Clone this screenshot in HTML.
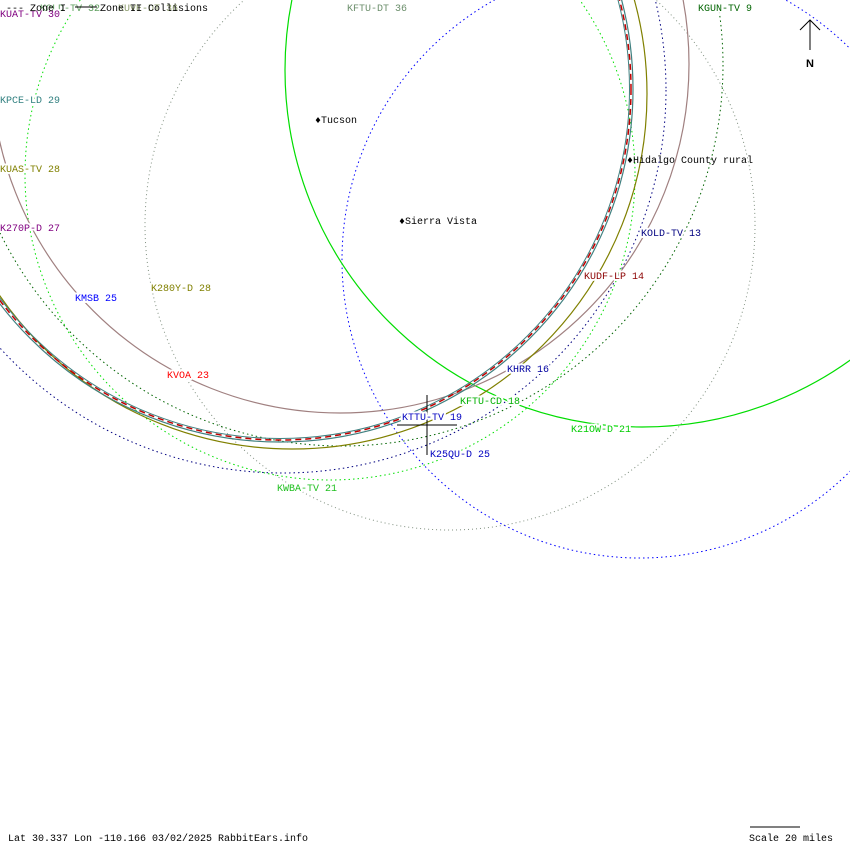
<!DOCTYPE html>
<html><head><meta charset="utf-8"><style>
html,body{margin:0;padding:0;background:#fff;}
svg{display:block;}
text{font-family:"Liberation Mono","DejaVu Sans Mono",monospace;font-size:10px;}
.h{paint-order:stroke;stroke:#fff;stroke-width:4px;stroke-linejoin:round;}
</style></head><body>
<svg width="850" height="850" viewBox="0 0 850 850" xmlns="http://www.w3.org/2000/svg">
<g fill="none">
<circle cx="450" cy="225" r="305" stroke="#809080" stroke-dasharray="1 3"/>
<circle cx="330" cy="175" r="305" stroke="#00e000" stroke-dasharray="1.5 3"/>
<circle cx="640" cy="260" r="298" stroke="#0000ff" stroke-dasharray="1.5 3"/>
<circle cx="283" cy="90" r="383" stroke="#000080" stroke-dasharray="1.5 3"/>
<circle cx="342" cy="65" r="381" stroke="#006400" stroke-dasharray="1.5 3"/>
<circle cx="642" cy="70" r="357" stroke="#00dd00" stroke-width="1.2"/>
<circle cx="340" cy="64" r="349" stroke="#a08080" stroke-width="1.2"/>
<circle cx="292" cy="94" r="355" stroke="#808000" stroke-width="1.2"/>
<circle cx="280" cy="89" r="353" stroke="#408080" stroke-width="1.2"/>
<circle cx="280" cy="89" r="351" stroke="#c00000" stroke-width="1.5" stroke-dasharray="6 4"/>
<circle cx="280" cy="89" r="349.5" stroke="#408080" stroke-width="1"/>
</g>
<line x1="427" y1="395" x2="427" y2="455" stroke="#000"/>
<line x1="397" y1="425" x2="457" y2="425" stroke="#000"/>
<line x1="810" y1="20" x2="810" y2="50" stroke="#000"/>
<polyline points="800,30 810,20 820,30" fill="none" stroke="#000"/>
<text x="806" y="67" font-weight="bold" style="font-family:'Liberation Sans',sans-serif;font-size:11px">N</text>
<g>
<text class="h" x="40" y="11" fill="#60a060">KOLD-TV 32</text>
<text class="h" x="118" y="11" fill="#8a9a6a">KUVE-DT 36</text>
<text class="h" x="0" y="17" fill="#800080">KUAT-TV 30</text>
<text x="6" y="11" fill="#000">--- Zone I</text>
<line x1="75" y1="7" x2="97" y2="7" stroke="#000"/>
<text x="100" y="11" fill="#000">Zone II Collisions</text>
<text class="h" x="347" y="11" fill="#6b8e6b">KFTU-DT 36</text>
<text class="h" x="698" y="11" fill="#006400">KGUN-TV 9</text>
<text class="h" x="0" y="103" fill="#2f7f7f">KPCE-LD 29</text>
<text x="315" y="123" fill="#000">♦Tucson</text>
<text x="627" y="163" fill="#000">♦Hidalgo County rural</text>
<text class="h" x="0" y="172" fill="#808000">KUAS-TV 28</text>
<text x="399" y="224" fill="#000">♦Sierra Vista</text>
<text class="h" x="0" y="231" fill="#800080">K270P-D 27</text>
<text class="h" x="641" y="236" fill="#000080">KOLD-TV 13</text>
<text class="h" x="584" y="279" fill="#8b0000">KUDF-LP 14</text>
<text class="h" x="151" y="291" fill="#808000">K280Y-D 28</text>
<text class="h" x="75" y="301" fill="#0000ff">KMSB 25</text>
<text class="h" x="167" y="378" fill="#ff0000">KVOA 23</text>
<text class="h" x="507" y="372" fill="#0000a0">KHRR 16</text>
<text class="h" x="460" y="404" fill="#00b000">KFTU-CD 18</text>
<text class="h" x="402" y="420" fill="#0000c0">KTTU-TV 19</text>
<text class="h" x="571" y="432" fill="#00cc00">K21OW-D 21</text>
<text class="h" x="430" y="457" fill="#0000c0">K25QU-D 25</text>
<text class="h" x="277" y="491" fill="#20c020">KWBA-TV 21</text>
<text x="8" y="841" fill="#000">Lat 30.337 Lon -110.166 03/02/2025 RabbitEars.info</text>
<line x1="750" y1="827" x2="800" y2="827" stroke="#000"/>
<text x="749" y="841" fill="#000">Scale 20 miles</text>
</g>
</svg>
</body></html>
